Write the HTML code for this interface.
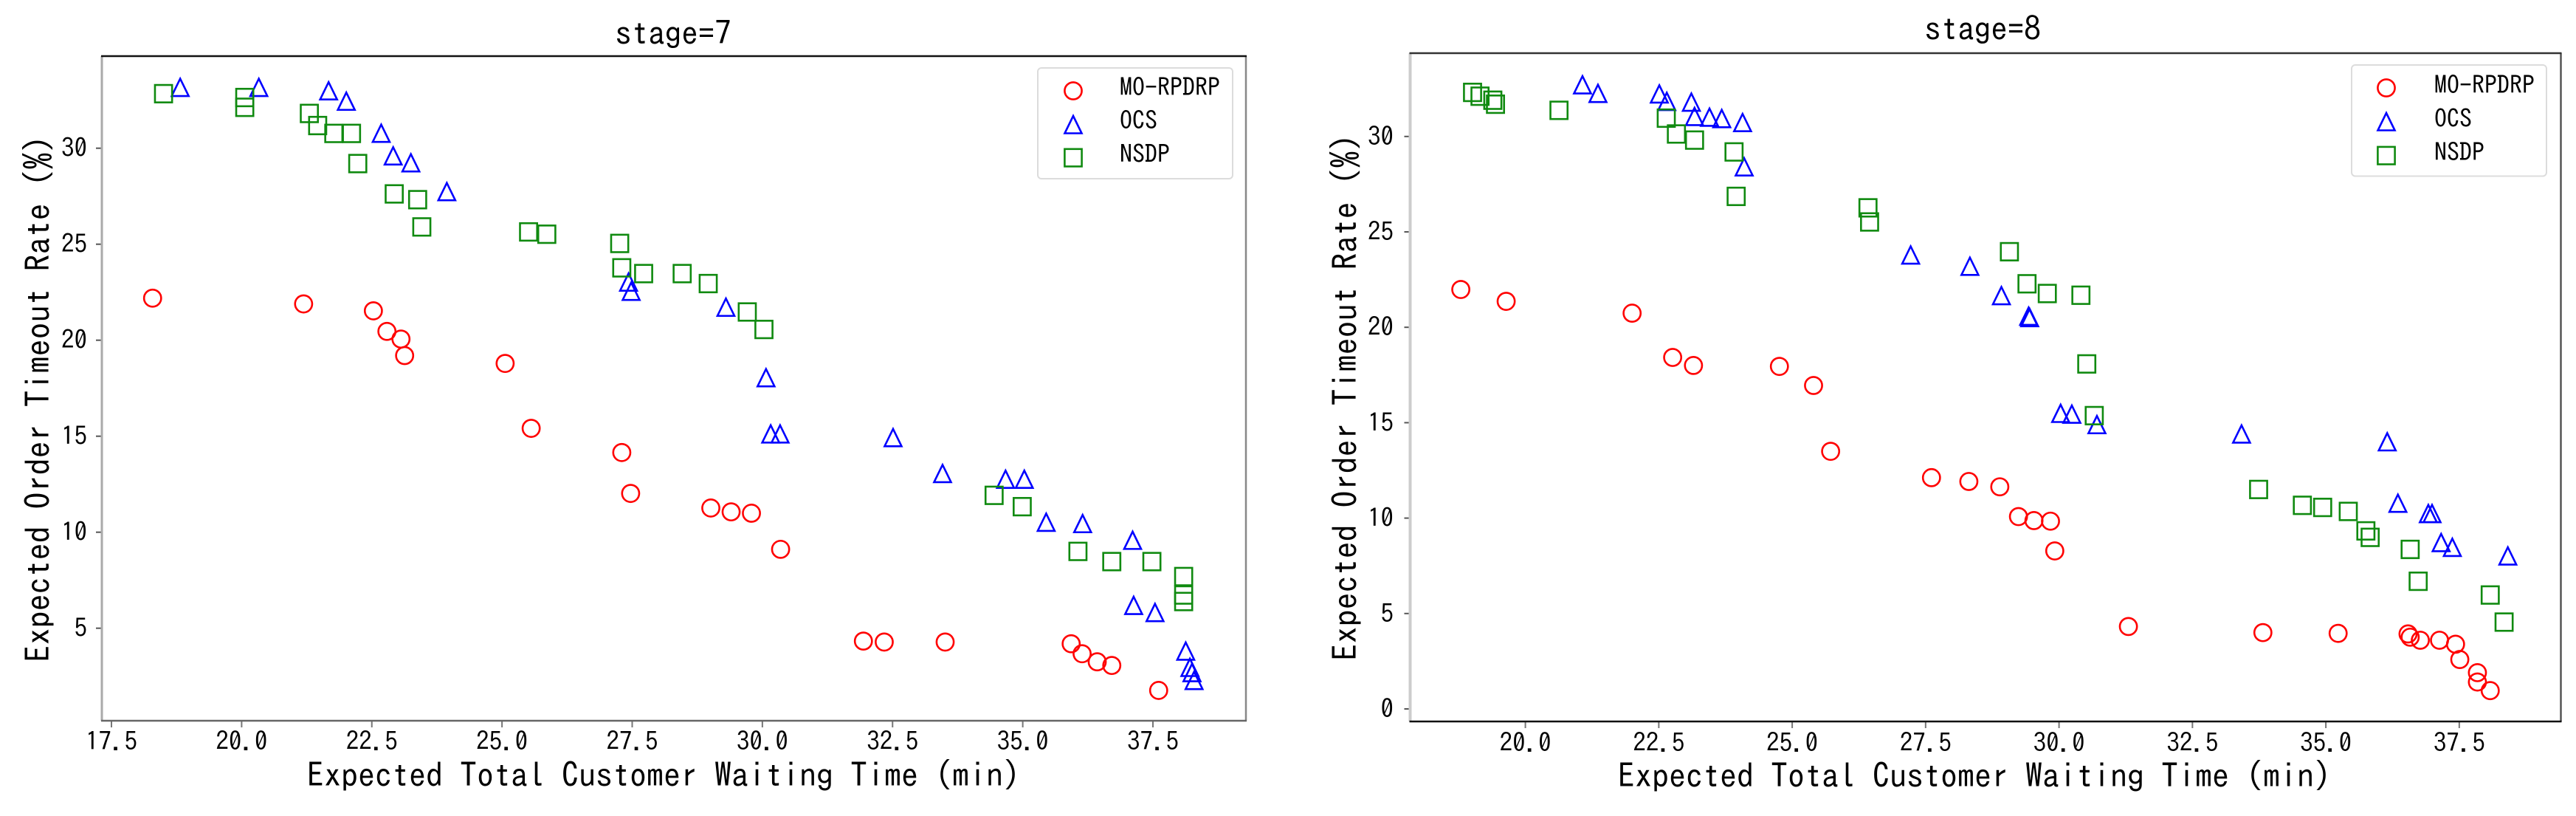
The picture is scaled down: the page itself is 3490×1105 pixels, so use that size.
<!DOCTYPE html>
<html lang="en">
<head>
<meta charset="utf-8">
<title>Expected order timeout rate versus waiting time, stages 7 and 8</title>
<style>
html,body{margin:0;padding:0;background:#fff;}
body{width:3490px;height:1105px;overflow:hidden;}
svg{display:block;}
text{font-family:"IPAGothic","Liberation Mono","Noto Sans CJK JP",monospace;fill:#000;}
</style>
</head>
<body>
<svg id="chart" xmlns="http://www.w3.org/2000/svg" width="3490" height="1105" viewBox="0 0 3490 1105">
  <rect x="0" y="0" width="3490" height="1105" fill="#fff"/>
  <g id="panel7">
    <text x="912" y="61" font-size="45" text-anchor="middle">stage=7</text>
    <text x="899" y="1066" font-size="46" text-anchor="middle">Expected Total Customer Waiting Time (min)</text>
    <text transform="translate(68,540) rotate(-90)" font-size="46" text-anchor="middle">Expected Order Timeout Rate (%)</text>
  </g>
  <g id="panel8">
    <text x="2686" y="55" font-size="45" text-anchor="middle">stage=8</text>
    <text x="2675" y="1067" font-size="46" text-anchor="middle">Expected Total Customer Waiting Time (min)</text>
    <text transform="translate(1839,538) rotate(-90)" font-size="46" text-anchor="middle">Expected Order Timeout Rate (%)</text>
  </g>
</svg>
<script>
const seriesNames = ["MO-RPDRP", "OCS", "NSDP"];

const xTicks7 = ["17.5", "20.0", "22.5", "25.0", "27.5", "30.0", "32.5", "35.0", "37.5"];
const yTicks7 = ["5", "10", "15", "20", "25", "30"];
const xTicks8 = ["20.0", "22.5", "25.0", "27.5", "30.0", "32.5", "35.0", "37.5"];
const yTicks8 = ["0", "5", "10", "15", "20", "25", "30"];

const moX7 = [18.29, 21.19, 22.53, 22.79, 23.06, 23.13, 25.06, 25.56, 27.30, 27.47, 29.01, 29.40, 29.79, 30.35, 31.94, 32.34, 33.51, 35.93, 36.14, 36.43, 36.71, 37.61];
const moY7 = [22.19, 21.89, 21.53, 20.46, 20.06, 19.20, 18.79, 15.41, 14.15, 12.02, 11.26, 11.06, 10.99, 9.11, 4.33, 4.28, 4.28, 4.19, 3.67, 3.25, 3.06, 1.76];
const ocsX7 = [18.82, 20.33, 21.67, 22.01, 22.68, 22.91, 23.25, 23.94, 27.43, 27.48, 29.30, 30.07, 30.16, 30.34, 32.51, 33.46, 34.67, 35.03, 35.45, 36.15, 37.11, 37.13, 37.54, 38.13, 38.21, 38.25, 38.29];
const ocsY7 = [33.16, 33.16, 32.98, 32.44, 30.77, 29.59, 29.23, 27.73, 23.02, 22.54, 21.71, 18.04, 15.11, 15.11, 14.92, 13.05, 12.75, 12.75, 10.51, 10.44, 9.57, 6.18, 5.81, 3.80, 2.95, 2.68, 2.27];
const nsdpX7 = [18.50, 20.06, 20.06, 21.30, 21.46, 21.77, 22.11, 22.23, 22.93, 23.38, 23.46, 25.51, 25.86, 27.26, 27.30, 27.72, 28.46, 28.96, 29.71, 30.03, 34.45, 34.99, 36.06, 36.71, 37.48, 38.09, 38.09, 38.09];
const nsdpY7 = [32.84, 32.64, 32.13, 31.81, 31.18, 30.77, 30.77, 29.20, 27.62, 27.32, 25.90, 25.64, 25.52, 25.04, 23.77, 23.47, 23.47, 22.95, 21.47, 20.56, 11.92, 11.33, 9.00, 8.47, 8.47, 7.69, 6.73, 6.39];

const moX8 = [18.79, 19.64, 22.00, 22.76, 23.15, 24.76, 25.40, 25.72, 27.61, 28.31, 28.89, 29.24, 29.53, 29.84, 29.92, 31.30, 33.82, 35.23, 36.54, 36.58, 36.77, 37.13, 37.43, 37.51, 37.84, 37.84, 38.08];
const moY8 = [21.98, 21.36, 20.74, 18.42, 18.00, 17.95, 16.95, 13.50, 12.12, 11.92, 11.64, 10.08, 9.87, 9.84, 8.28, 4.32, 4.00, 3.96, 3.93, 3.76, 3.60, 3.60, 3.39, 2.59, 1.90, 1.41, 0.96];
const ocsX8 = [21.07, 21.36, 22.51, 22.65, 23.11, 23.17, 23.45, 23.68, 24.07, 24.10, 27.22, 28.33, 28.92, 29.43, 29.45, 30.03, 30.24, 30.71, 33.42, 36.15, 36.35, 36.92, 36.99, 37.16, 37.37, 38.41];
const ocsY8 = [32.70, 32.25, 32.22, 31.83, 31.79, 31.04, 31.00, 30.93, 30.72, 28.40, 23.78, 23.19, 21.65, 20.57, 20.50, 15.48, 15.44, 14.89, 14.40, 13.99, 10.77, 10.23, 10.23, 8.71, 8.46, 8.01];
const nsdpX8 = [19.01, 19.15, 19.39, 19.44, 20.63, 22.64, 22.83, 23.17, 23.91, 23.95, 26.42, 26.45, 29.07, 29.40, 29.78, 30.41, 30.52, 30.66, 33.74, 34.56, 34.94, 35.42, 35.75, 35.83, 36.58, 36.73, 38.08, 38.34];
const nsdpY8 = [32.31, 32.11, 31.90, 31.69, 31.37, 30.96, 30.13, 29.81, 29.19, 26.86, 26.26, 25.52, 23.96, 22.28, 21.77, 21.68, 18.08, 15.37, 11.50, 10.67, 10.56, 10.35, 9.33, 8.99, 8.36, 6.69, 5.97, 4.55];

const NS = "http://www.w3.org/2000/svg";

function xAxis7(v) { return 151 + (v - 17.5) * 70.55; }
function yAxis7(v) { return 200.7 + (30 - v) * 26; }
function xAxis8(v) { return 2066.6 + (v - 20) * 72.3; }
function yAxis8(v) { return 960 - v * 25.84; }

function make(tag, attrs, parent) {
  const el = document.createElementNS(NS, tag);
  for (const k in attrs) el.setAttribute(k, attrs[k]);
  parent.appendChild(el);
  return el;
}

function line(parent, x1, y1, x2, y2, color, width, name) {
  const el = make("line", { x1: x1, y1: y1, x2: x2, y2: y2, stroke: color, "stroke-width": width }, parent);
  
  
  return el;
}

function marker(parent, shape, cx, cy, name) {
  let el;
  if (shape === "circle") {
    el = make("circle", { cx: cx, cy: cy, r: 11.6, fill: "none", stroke: "#ff0000", "stroke-width": 2.6 }, parent);
  } else if (shape === "triangle") {
    const pts = (cx) + "," + (cy - 12) + " " + (cx + 11.5) + "," + (cy + 11.5) + " " + (cx - 11.5) + "," + (cy + 11.5);
    el = make("polygon", { points: pts, fill: "none", stroke: "#0000ff", "stroke-width": 2.6 }, parent);
  } else {
    el = make("rect", { x: cx - 11.6, y: cy - 11.8, width: 23.2, height: 23.6, fill: "none", stroke: "#108a10", "stroke-width": 2.6 }, parent);
  }
  
  
  return el;
}

function drawSeries(parent, shape, xs, ys, xf, yf, name) {
  const g = make("g", {}, parent);
  
  
  xs.forEach(function (x, i) {
    marker(g, shape, xf(x), yf(ys[i]), name + '-point');
  });
}

function drawAxes(parent, box, xTicks, yTicks, xf, yf, prefix, xLabelY, yLabelX) {
  xTicks.forEach(function (t) {
    const px = xf(parseFloat(t));
    line(parent, px, box.bottom, px, box.bottom + 9, "#777", 2, prefix + '-x-tick');
    const lab = make("text", { x: px, y: xLabelY, "font-size": 35, "text-anchor": "middle" }, parent);
    
    
    lab.textContent = t;
  });
  yTicks.forEach(function (t) {
    const py = yf(parseFloat(t));
    line(parent, box.left - 8, py, box.left, py, "#555", 2, prefix + '-y-tick');
    const lab = make("text", { x: yLabelX, y: py + 12, "font-size": 35, "text-anchor": "end" }, parent);
    
    
    lab.textContent = t;
  });
}

function drawSpines(parent, box, colors, prefix) {
  line(parent, box.left, box.top, box.left, box.bottom, colors.left, colors.leftW, prefix + '-left-spine');
  line(parent, box.right, box.top, box.right, box.bottom, colors.right, 2.5, prefix + '-right-spine');
  line(parent, box.left - 1, box.top, box.right + 1, box.top, colors.top, 2.5, prefix + '-top-spine');
  line(parent, box.left - 1, box.bottom, box.right + 1, box.bottom, colors.bottom, 2.5, prefix + '-bottom-spine');
}

function drawLegend(parent, b, prefix) {
  const g = make("g", {}, parent);
  
  
  const frame = make("rect", { x: b.x, y: b.y, width: b.w, height: b.h, rx: 5, ry: 5, fill: "#fff", stroke: "#dcdcdc", "stroke-width": 2 }, g);
  
  
  const shapes = ["circle", "triangle", "square"];
  seriesNames.forEach(function (n, i) {
    marker(g, shapes[i], b.mx, b.my[i], prefix + '-legend-marker');
    const t = make("text", { x: b.tx, y: b.ty[i], "font-size": 34 }, g);
    
    
    t.textContent = n;
  });
}

const panel7 = document.getElementById("panel7");
const panel8 = document.getElementById("panel8");

const box7 = { left: 138, right: 1688, top: 76, bottom: 976 };
const box8 = { left: 1910.5, right: 3469.5, top: 72, bottom: 977 };

drawAxes(panel7, box7, xTicks7, yTicks7, xAxis7, yAxis7, 'stage-7', 1016, 118);
drawSeries(panel7, "circle", moX7, moY7, xAxis7, yAxis7, 'stage-7-mo-rpdrp');
drawSeries(panel7, "triangle", ocsX7, ocsY7, xAxis7, yAxis7, 'stage-7-ocs');
drawSeries(panel7, "square", nsdpX7, nsdpY7, xAxis7, yAxis7, 'stage-7-nsdp');
drawSpines(panel7, box7, { left: "#aaaaaa", leftW: 3, right: "#888888", top: "#111111", bottom: "#666666" }, 'stage-7');
drawLegend(panel7, { x: 1406, y: 92, w: 264, h: 150, mx: 1454, my: [123, 169, 213.6], tx: 1517, ty: [130, 175, 220.7] }, 'stage-7');

drawAxes(panel8, box8, xTicks8, yTicks8, xAxis8, yAxis8, 'stage-8', 1018, 1888);
drawSeries(panel8, "circle", moX8, moY8, xAxis8, yAxis8, 'stage-8-mo-rpdrp');
drawSeries(panel8, "triangle", ocsX8, ocsY8, xAxis8, yAxis8, 'stage-8-ocs');
drawSeries(panel8, "square", nsdpX8, nsdpY8, xAxis8, yAxis8, 'stage-8-nsdp');
drawSpines(panel8, box8, { left: "#cccccc", leftW: 4, right: "#555555", top: "#333333", bottom: "#111111" }, 'stage-8');
drawLegend(panel8, { x: 3186, y: 88, w: 264, h: 150.5, mx: 3233, my: [119, 165, 210.7], tx: 3298, ty: [127, 172.5, 218] }, 'stage-8');
</script>
</body>
</html>
